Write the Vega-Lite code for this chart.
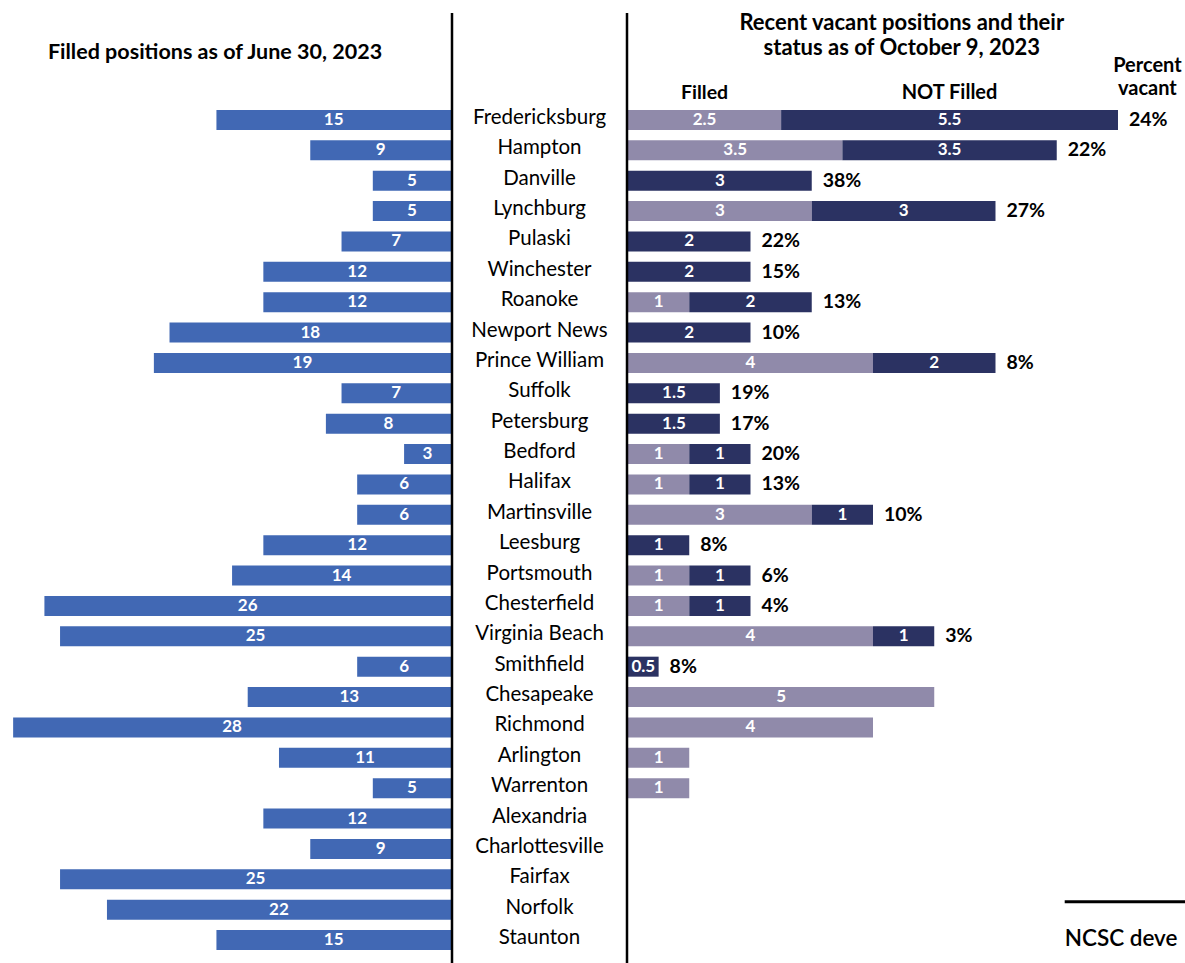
{
  "$schema": "https://vega.github.io/schema/vega-lite/v6.json",
  "padding": {"top": 11, "left": 0, "right": 0, "bottom": 0},
  "bounds": "flush",
  "background": "white",
  "config": {"view": {"stroke": null}, "font": "Lato", "text": {"font": "Lato"}},
  "spacing": 0,
  "datasets": {
    "rows": [
      {"city": "Fredericksburg", "june": 15, "filled": 2.5, "notFilled": 5.5, "pct": "24%"},
      {"city": "Hampton", "june": 9, "filled": 3.5, "notFilled": 3.5, "pct": "22%"},
      {"city": "Danville", "june": 5, "filled": 0, "notFilled": 3, "pct": "38%"},
      {"city": "Lynchburg", "june": 5, "filled": 3, "notFilled": 3, "pct": "27%"},
      {"city": "Pulaski", "june": 7, "filled": 0, "notFilled": 2, "pct": "22%"},
      {"city": "Winchester", "june": 12, "filled": 0, "notFilled": 2, "pct": "15%"},
      {"city": "Roanoke", "june": 12, "filled": 1, "notFilled": 2, "pct": "13%"},
      {"city": "Newport News", "june": 18, "filled": 0, "notFilled": 2, "pct": "10%"},
      {"city": "Prince William", "june": 19, "filled": 4, "notFilled": 2, "pct": "8%"},
      {"city": "Suffolk", "june": 7, "filled": 0, "notFilled": 1.5, "pct": "19%"},
      {"city": "Petersburg", "june": 8, "filled": 0, "notFilled": 1.5, "pct": "17%"},
      {"city": "Bedford", "june": 3, "filled": 1, "notFilled": 1, "pct": "20%"},
      {"city": "Halifax", "june": 6, "filled": 1, "notFilled": 1, "pct": "13%"},
      {"city": "Martinsville", "june": 6, "filled": 3, "notFilled": 1, "pct": "10%"},
      {"city": "Leesburg", "june": 12, "filled": 0, "notFilled": 1, "pct": "8%"},
      {"city": "Portsmouth", "june": 14, "filled": 1, "notFilled": 1, "pct": "6%"},
      {"city": "Chesterfield", "june": 26, "filled": 1, "notFilled": 1, "pct": "4%"},
      {"city": "Virginia Beach", "june": 25, "filled": 4, "notFilled": 1, "pct": "3%"},
      {"city": "Smithfield", "june": 6, "filled": 0, "notFilled": 0.5, "pct": "8%"},
      {"city": "Chesapeake", "june": 13, "filled": 5, "notFilled": 0, "pct": ""},
      {"city": "Richmond", "june": 28, "filled": 4, "notFilled": 0, "pct": ""},
      {"city": "Arlington", "june": 11, "filled": 1, "notFilled": 0, "pct": ""},
      {"city": "Warrenton", "june": 5, "filled": 1, "notFilled": 0, "pct": ""},
      {"city": "Alexandria", "june": 12, "filled": 0, "notFilled": 0, "pct": ""},
      {"city": "Charlottesville", "june": 9, "filled": 0, "notFilled": 0, "pct": ""},
      {"city": "Fairfax", "june": 25, "filled": 0, "notFilled": 0, "pct": ""},
      {"city": "Norfolk", "june": 22, "filled": 0, "notFilled": 0, "pct": ""},
      {"city": "Staunton", "june": 15, "filled": 0, "notFilled": 0, "pct": ""}
    ]
  },
  "hconcat": [
    {
      "width": 451,
      "height": 951,
      "layer": [
        {
          "data": {"name": "rows"},
          "mark": {"type": "bar", "color": "#4168B4"},
          "encoding": {
            "y": {"field": "city", "type": "nominal", "axis": null, "scale": {"type": "band", "domain": ["_t0", "_t1", "_t2", "Fredericksburg", "Hampton", "Danville", "Lynchburg", "Pulaski", "Winchester", "Roanoke", "Newport News", "Prince William", "Suffolk", "Petersburg", "Bedford", "Halifax", "Martinsville", "Leesburg", "Portsmouth", "Chesterfield", "Virginia Beach", "Smithfield", "Chesapeake", "Richmond", "Arlington", "Warrenton", "Alexandria", "Charlottesville", "Fairfax", "Norfolk", "Staunton"], "paddingInner": 0.3415, "paddingOuter": 0.327, "align": 0.296}},
            "x": {"field": "june", "type": "quantitative", "axis": null, "scale": {"domain": [0, 28.84], "reverse": true, "nice": false, "zero": true}}
          }
        },
        {
          "data": {"name": "rows"},
          "transform": [{"calculate": "datum.june / 2", "as": "mid"}],
          "mark": {"type": "text", "color": "white", "fontWeight": "bold", "fontSize": 17},
          "encoding": {
            "y": {"field": "city", "type": "nominal"},
            "x": {"field": "mid", "type": "quantitative"},
            "text": {"field": "june", "type": "nominal"}
          }
        },
        {
          "data": {"values": [{}]},
          "mark": {"type": "rule", "color": "black", "strokeWidth": 2.5, "xOffset": 1},
          "encoding": {"x": {"datum": 0, "type": "quantitative"}}
        },
        {
          "data": {"values": [{}]},
          "mark": {"type": "text", "fontWeight": "bold", "fontSize": 21.5, "dy": -6, "color": "black", "text": "Filled positions as of June 30, 2023"},
          "encoding": {
            "x": {"datum": 15.09, "type": "quantitative"},
            "y": {"datum": "_t1", "type": "nominal"}
          }
        }
      ]
    },
    {
      "width": 177,
      "height": 951,
      "data": {"name": "rows"},
      "mark": {"type": "text", "fontSize": 20.5, "color": "black", "dy": -2},
      "encoding": {
        "y": {"field": "city", "type": "nominal", "axis": null, "scale": {"type": "band", "domain": ["_t0", "_t1", "_t2", "Fredericksburg", "Hampton", "Danville", "Lynchburg", "Pulaski", "Winchester", "Roanoke", "Newport News", "Prince William", "Suffolk", "Petersburg", "Bedford", "Halifax", "Martinsville", "Leesburg", "Portsmouth", "Chesterfield", "Virginia Beach", "Smithfield", "Chesapeake", "Richmond", "Arlington", "Warrenton", "Alexandria", "Charlottesville", "Fairfax", "Norfolk", "Staunton"], "paddingInner": 0.3415, "paddingOuter": 0.327, "align": 0.296}},
        "text": {"field": "city", "type": "nominal"}
      }
    },
    {
      "width": 557,
      "height": 951,
      "layer": [
        {
          "data": {"name": "rows"},
          "transform": [
            {"fold": ["filled", "notFilled"], "as": ["status", "n"]},
            {"filter": "datum.n > 0"},
            {"stack": "n", "groupby": ["city"], "sort": [{"field": "status", "order": "ascending"}], "as": ["v0", "v1"]}
          ],
          "mark": {"type": "bar"},
          "encoding": {
            "y": {"field": "city", "type": "nominal", "axis": null, "scale": {"type": "band", "domain": ["_t0", "_t1", "_t2", "Fredericksburg", "Hampton", "Danville", "Lynchburg", "Pulaski", "Winchester", "Roanoke", "Newport News", "Prince William", "Suffolk", "Petersburg", "Bedford", "Halifax", "Martinsville", "Leesburg", "Portsmouth", "Chesterfield", "Virginia Beach", "Smithfield", "Chesapeake", "Richmond", "Arlington", "Warrenton", "Alexandria", "Charlottesville", "Fairfax", "Norfolk", "Staunton"], "paddingInner": 0.3415, "paddingOuter": 0.327, "align": 0.296}},
            "x": {"field": "v0", "type": "quantitative", "axis": null, "scale": {"domain": [0, 9.094], "nice": false, "zero": true}},
            "x2": {"field": "v1"},
            "color": {"field": "status", "type": "nominal", "legend": null, "scale": {"domain": ["filled", "notFilled"], "range": ["#908AAA", "#2B3262"]}}
          }
        },
        {
          "data": {"name": "rows"},
          "transform": [
            {"fold": ["filled", "notFilled"], "as": ["status", "n"]},
            {"filter": "datum.n > 0"},
            {"stack": "n", "groupby": ["city"], "sort": [{"field": "status", "order": "ascending"}], "as": ["v0", "v1"]},
            {"calculate": "(datum.v0 + datum.v1) / 2", "as": "mid"}
          ],
          "mark": {"type": "text", "color": "white", "fontSize": 17, "fontWeight": "bold"},
          "encoding": {
            "y": {"field": "city", "type": "nominal"},
            "x": {"field": "mid", "type": "quantitative"},
            "text": {"field": "n", "type": "nominal"}
          }
        },
        {
          "data": {"name": "rows"},
          "transform": [
            {"filter": "datum.pct != ''"},
            {"fold": ["filled", "notFilled"], "as": ["status", "n"]}
          ],
          "mark": {"type": "text", "color": "black", "fontSize": 19.5, "fontWeight": "bold", "align": "left", "dx": 11},
          "encoding": {
            "y": {"field": "city", "type": "nominal"},
            "x": {"aggregate": "sum", "field": "n", "type": "quantitative"},
            "text": {"field": "pct", "type": "nominal"}
          }
        },
        {
          "data": {"values": [{}]},
          "mark": {"type": "rule", "color": "black", "strokeWidth": 2.5, "xOffset": -1},
          "encoding": {"x": {"datum": 0, "type": "quantitative"}}
        },
        {
          "data": {"values": [{}]},
          "mark": {"type": "text", "fontWeight": "bold", "fontSize": 22, "color": "black", "dy": -6, "lineHeight": 25, "text": ["Recent vacant positions and their", "status as of October 9, 2023"]},
          "encoding": {
            "x": {"datum": 4.47, "type": "quantitative"},
            "y": {"datum": "_t0", "type": "nominal"}
          }
        },
        {
          "data": {"values": [{}]},
          "mark": {"type": "text", "fontWeight": "bold", "fontSize": 19.5, "color": "black", "dy": 3.5, "text": "Filled"},
          "encoding": {
            "x": {"datum": 1.25, "type": "quantitative"},
            "y": {"datum": "_t2", "type": "nominal"}
          }
        },
        {
          "data": {"values": [{}]},
          "mark": {"type": "text", "fontWeight": "bold", "fontSize": 20, "color": "black", "dy": 3.5, "text": "NOT Filled"},
          "encoding": {
            "x": {"datum": 5.25, "type": "quantitative"},
            "y": {"datum": "_t2", "type": "nominal"}
          }
        },
        {
          "data": {"values": [{}]},
          "mark": {"type": "text", "fontWeight": "bold", "fontSize": 20, "color": "black", "dy": -23.6, "lineHeight": 23, "text": ["Percent", "vacant"]},
          "encoding": {
            "x": {"datum": 8.48, "type": "quantitative"},
            "y": {"datum": "_t2", "type": "nominal"}
          }
        },
        {
          "data": {"values": [{}]},
          "mark": {"type": "rule", "color": "black", "strokeWidth": 3, "yOffset": -8},
          "encoding": {
            "x": {"datum": 7.13, "type": "quantitative"},
            "x2": {"datum": 9.094},
            "y": {"datum": "Norfolk", "type": "nominal"}
          }
        },
        {
          "data": {"values": [{}]},
          "mark": {"type": "text", "fontSize": 22.5, "fontWeight": 600, "color": "black", "align": "left", "dy": -1, "text": "NCSC deve"},
          "encoding": {
            "x": {"datum": 7.13, "type": "quantitative"},
            "y": {"datum": "Staunton", "type": "nominal"}
          }
        }
      ]
    }
  ]
}
